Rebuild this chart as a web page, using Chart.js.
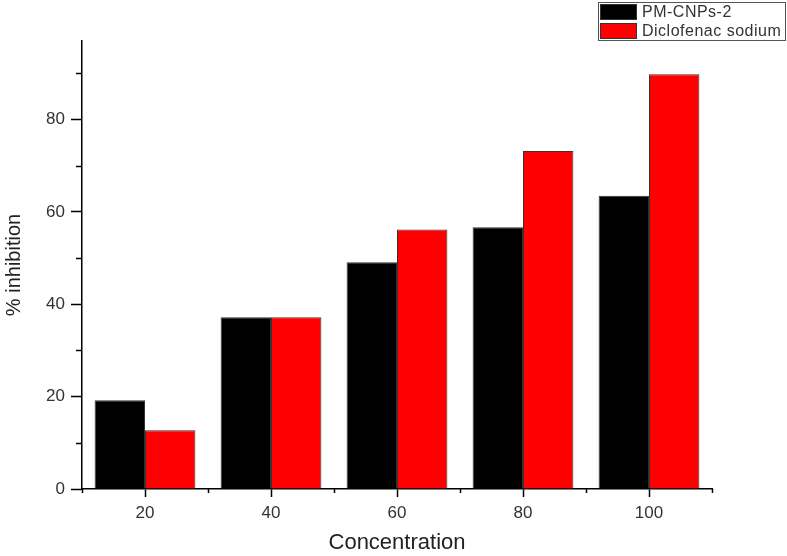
<!DOCTYPE html>
<html>
<head>
<meta charset="utf-8">
<script src="https://cdn.jsdelivr.net/npm/chart.js@4.4.1/dist/chart.umd.min.js"></script>
<style>
  html, body { margin: 0; padding: 0; background: #fff; }
  #wrap { width: 787px; height: 556px; position: relative; }
</style>
</head>
<body>
<div id="wrap"><canvas id="chart"></canvas></div>
<script>
const concentrations = ["20", "40", "60", "80", "100"];
const pmCnps = [19.2, 37.2, 49.1, 56.7, 63.5];
const diclofenac = [12.7, 37.2, 56.2, 73.2, 89.8];
const yMajorTicks = [0, 20, 40, 60, 80];
const yMinorTicks = [10, 30, 50, 70, 90];
const seriesNames = ["PM-CNPs-2", "Diclofenac sodium"];

const tickFont = { family: "'Liberation Sans', Arial, sans-serif", size: 17 };
const titleFont = { family: "'Liberation Sans', Arial, sans-serif", size: 20 };

// minor tick marks (origin style) + boxed legend at the top right
const originExtras = {
  id: "originExtras",
  afterDraw(chart) {
    const { ctx } = chart;
    const x = chart.scales.x;
    const y = chart.scales.y;
    ctx.save();
    ctx.strokeStyle = "#000";
    ctx.lineWidth = 1.5;
    ctx.beginPath();
    yMinorTicks.forEach((v) => {
      const py = Math.round(y.getPixelForValue(v)) + 0.5;
      ctx.moveTo(y.right - 6, py);
      ctx.lineTo(y.right, py);
    });
    for (let i = 0; i <= concentrations.length; i++) {
      const px = Math.round(x.getPixelForValue(i - 0.5)) + 0.5;
      ctx.moveTo(px, x.top);
      ctx.lineTo(px, x.top + 4);
    }
    ctx.stroke();

    // legend
    const bx = 598, by = 2, bw = 187, rowH = 19;
    ctx.fillStyle = "#fff";
    ctx.fillRect(bx, by, bw, rowH * 2);
    ctx.strokeStyle = "#555";
    ctx.lineWidth = 1;
    ctx.strokeRect(bx + 0.5, by + 0.5, bw, rowH * 2);
    chart.data.datasets.forEach((ds, i) => {
      const ry = by + 1 + i * rowH;
      ctx.fillStyle = ds.backgroundColor;
      ctx.fillRect(bx + 2, ry + 1, 37, rowH - 3);
      ctx.strokeStyle = "#333";
      ctx.strokeRect(bx + 2.5, ry + 1.5, 36, rowH - 4);
      ctx.fillStyle = "#333";
      ctx.font = "16px 'Liberation Sans', Arial, sans-serif";
      ctx.letterSpacing = "0.5px";
      ctx.textBaseline = "middle";
      ctx.fillText(ds.label, bx + 44, ry + rowH / 2);
    });
    ctx.restore();
  },
};

new Chart(document.getElementById("chart"), {
  type: "bar",
  data: {
    labels: concentrations,
    datasets: [
      {
        label: seriesNames[0],
        data: pmCnps,
        backgroundColor: "#000000",
        borderColor: "#333333",
        borderWidth: 1,
      },
      {
        label: seriesNames[1],
        data: diclofenac,
        backgroundColor: "#ff0000",
        borderColor: "#333333",
        borderWidth: 1,
      },
    ],
  },
  options: {
    responsive: true,
    maintainAspectRatio: false,
    animation: false,
    layout: { padding: { top: 41, right: 75, left: 0, bottom: 0 } },
    datasets: { bar: { categoryPercentage: 0.8, barPercentage: 1.0 } },
    plugins: {
      legend: { display: false },
      tooltip: { enabled: false },
    },
    scales: {
      x: {
        offset: true,
        grid: { display: true, drawOnChartArea: false, offset: false, tickLength: 8, tickColor: "#000", tickWidth: 1.5 },
        border: { color: "#000", width: 1.5 },
        ticks: { color: "#333", font: tickFont, padding: 6, maxRotation: 0 },
        title: { display: true, text: "Concentration", color: "#222", font: { ...titleFont, size: 22 }, padding: { top: 0, bottom: 0 } },
        afterFit(scale) { scale.height = 67; },
      },
      y: {
        min: 0,
        max: 97,
        grid: { display: true, drawOnChartArea: false, tickLength: 11, tickColor: "#000", tickWidth: 1.5 },
        border: { color: "#000", width: 1.5 },
        ticks: { color: "#333", font: tickFont, padding: 6, stepSize: 20 },
        afterBuildTicks(scale) {
          scale.ticks = yMajorTicks.map((v) => ({ value: v }));
        },
        title: { display: true, text: "% inhibition", color: "#222", font: titleFont, padding: { top: 2, bottom: 0 } },
        afterFit(scale) { scale.width = 82; },
      },
    },
  },
  plugins: [originExtras],
});
</script>
</body>
</html>
